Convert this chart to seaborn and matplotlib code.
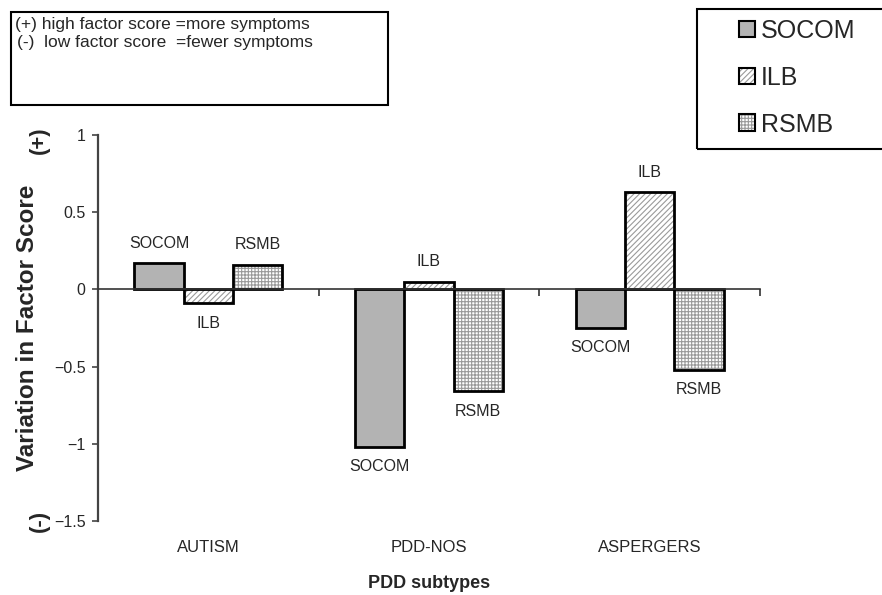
import matplotlib
matplotlib.use("Agg")
import matplotlib.pyplot as plt
import matplotlib.colors as mcolors
from matplotlib.patches import Patch, Rectangle
import seaborn as sns
import pandas as pd

# ---- data ----
subtypes = ["AUTISM", "PDD-NOS", "ASPERGERS"]
factors = ["SOCOM", "ILB", "RSMB"]
socom = [0.17, -1.02, -0.25]
ilb = [-0.09, 0.05, 0.63]
rsmb = [0.16, -0.66, -0.52]
yticks = [-1.5, -1, -0.5, 0, 0.5, 1]
ytick_labels = ["\u22121.5", "\u22121", "\u22120.5", "0", "0.5", "1"]
note_lines = ["(+) high factor score =more symptoms",
              "(-)  low factor score  =fewer symptoms"]

df = pd.DataFrame({
    "subtype": subtypes * 3,
    "factor": [f for f in factors for _ in subtypes],
    "value": socom + ilb + rsmb,
})

sns.set_style("white")
plt.rcParams["font.family"] = ["Liberation Sans", "DejaVu Sans"]
plt.rcParams["hatch.linewidth"] = 0.8

W, H = 882, 595
fig = plt.figure(figsize=(W / 100, H / 100), dpi=100)
ax = fig.add_axes([98 / W, 1 - 521 / H, 662 / W, 386 / H])

fills = {"SOCOM": "#b3b3b3", "ILB": "white", "RSMB": "white"}
hatches = {"SOCOM": None, "ILB": "//////", "RSMB": "+++++"}
hatch_col = mcolors.to_rgba("#9a9a9a")

sns.barplot(data=df, x="subtype", y="value", hue="factor", order=subtypes,
            hue_order=factors, palette=fills, width=0.67, ax=ax,
            edgecolor="black", linewidth=2, legend=False, errorbar=None)

for cont, name in zip(ax.containers, factors):
    for p in cont:
        p.set_facecolor(fills[name])
        p.set_edgecolor("black")
        p.set_linewidth(2)
        if hatches[name]:
            p.set_hatch(hatches[name])
            p._hatch_color = hatch_col
    ax.bar_label(cont, labels=[name] * len(cont), padding=9, fontsize=11.5)

ax.set_xlim(-0.5, 2.5)
ax.set_ylim(-1.5, 1)
ax.set_yticks(yticks, ytick_labels)
ax.tick_params(axis="y", direction="out", length=4, width=1.2, left=True,
               labelsize=11.5, pad=5, color="#444444")
for s in ["top", "right"]:
    ax.spines[s].set_visible(False)
ax.spines["left"].set_color("#444444")
ax.spines["left"].set_linewidth(1.6)
ax.spines["bottom"].set_position(("data", 0))
ax.spines["bottom"].set_color("#333333")
ax.spines["bottom"].set_linewidth(1.2)
ax.set_xticks([0.5, 1.5, 2.5], minor=True)
ax.tick_params(axis="x", which="major", length=0, labelbottom=False)
ax.tick_params(axis="x", which="minor", direction="out", length=5, width=1.2,
               bottom=True, color="#333333")
ax.set_xlabel("")
ax.set_ylabel("Variation in Factor Score", fontsize=17.5, fontweight="bold")
ax.yaxis.set_label_coords(-0.089, 0.5)
ax.text(-0.089, 0.987, "(+)", transform=ax.transAxes, rotation=90,
        ha="center", va="center", fontsize=16, fontweight="bold")
ax.text(-0.089, 0.0, "(-)", transform=ax.transAxes, rotation=90,
        ha="center", va="center", fontsize=16, fontweight="bold")

sec = ax.secondary_xaxis(0)
sec.set_xticks([0, 1, 2], subtypes)
sec.tick_params(length=0, labelsize=12, pad=14)
for s in sec.spines.values():
    s.set_visible(False)
sec.set_xlabel("PDD subtypes", fontsize=13, fontweight="bold", labelpad=14)

# note box
fig.add_artist(Rectangle((11 / W, 1 - 105 / H), 377 / W, 93 / H,
                         transform=fig.transFigure, fill=False,
                         edgecolor="black", linewidth=1.5))
fig.text(15 / W, 1 - 25 / H, note_lines[0], fontsize=12.5, va="center")
fig.text(17 / W, 1 - 43 / H, note_lines[1], fontsize=12.5, va="center")

# legend box
fig.add_artist(Rectangle((697 / W, 1 - 149 / H), 200 / W, 140 / H,
                         transform=fig.transFigure, fill=False,
                         edgecolor="black", linewidth=1.5, clip_on=False))
handles = []
for name in factors:
    h = Patch(facecolor=fills[name], edgecolor="black", linewidth=1.5,
              hatch=hatches[name], label=name)
    if hatches[name]:
        h._hatch_color = hatch_col
    handles.append(h)
fig.legend(handles=handles, loc="upper left",
           bbox_to_anchor=(739 / W, 1 - 19 / H), frameon=False,
           fontsize=18, handlelength=0.64, handleheight=0.64,
           handletextpad=0.24, labelspacing=0.91, borderpad=0,
           borderaxespad=0)

fig.savefig("out.png", dpi=100)
